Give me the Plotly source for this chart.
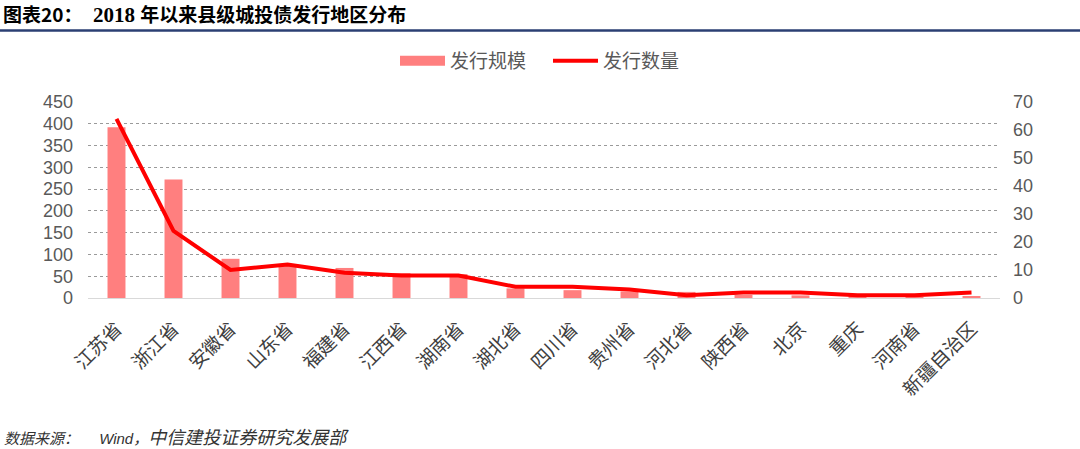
import plotly.graph_objects as go

categories = ["江苏省", "浙江省", "安徽省", "山东省", "福建省", "江西省", "湖南省", "湖北省",
              "四川省", "贵州省", "河北省", "陕西省", "北京", "重庆", "河南省", "新疆自治区"]
scale_values = [392, 272, 90, 75, 69, 57, 55, 22, 18, 15, 14, 7, 6, 3, 2, 4]
count_values = [64, 24, 10, 12, 9, 8, 8, 4, 4, 3, 1, 2, 2, 1, 1, 2]
left_ticks = [0, 50, 100, 150, 200, 250, 300, 350, 400, 450]
right_ticks = [0, 10, 20, 30, 40, 50, 60, 70]

FONT = "Noto Sans CJK SC"
TICKFONT = dict(family="Liberation Sans, " + FONT, size=18, color="#595959")
BAR_COLOR = "#FF7F7F"

fig = go.Figure()
fig.add_trace(go.Bar(x=categories, y=scale_values, name="发行规模", showlegend=False,
                     marker=dict(color=BAR_COLOR, line=dict(width=0)), yaxis="y"))
# legend swatch for the bar series (wide rectangle like the reference)
fig.add_trace(go.Scatter(x=[None], y=[None], name="发行规模", mode="lines",
                         line=dict(color=BAR_COLOR, width=10), yaxis="y"))
fig.add_trace(go.Scatter(x=categories, y=count_values, name="发行数量", mode="lines",
                         line=dict(color="#FF0000", width=4), yaxis="y2"))

L, R, T, B = 88, 80, 102, 151
W, H = 1080, 449
pw = W - L - R
ph = H - T - B

def px(x):
    return (x - L) / pw

def py(y):
    return (H - B - y) / ph

title_html = ("<b>图表20：</b>"
              "<span style='font-family:Liberation Serif;font-size:21px'><b>  2018 </b></span>"
              "<b>年以来县级城投债发行地区分布</b>")
footer_html = ("<i>数据来源：      <span style='font-family:Liberation Sans'>Wind</span>，"
               "<span style='font-size:18px'>中信建投证券研究发展部</span></i>")

fig.update_layout(
    width=W, height=H,
    margin=dict(l=L, r=R, t=T, b=B, autoexpand=False),
    plot_bgcolor="white", paper_bgcolor="white",
    bargap=0.685,
    showlegend=True,
    legend=dict(orientation="h", x=px(395), xanchor="left", y=py(61), yanchor="middle",
                font=dict(family=FONT, size=19, color="#595959"),
                traceorder="normal", itemwidth=45,
                entrywidth=93, entrywidthmode="pixels"),
    xaxis=dict(tickangle=-45, tickfont=dict(family=FONT, size=19, color="#404040"),
               showline=True, linecolor="#D9D9D9", linewidth=1, ticks="",
               showgrid=False, automargin=False, ticklabelstandoff=11),
    yaxis=dict(range=[0, 450], tickvals=left_ticks, tickfont=TICKFONT,
               showgrid=True, gridcolor="#9A9A9A", griddash="dot", gridwidth=1,
               zeroline=False, showline=False, ticks="", ticklabelstandoff=14,
               automargin=False),
    yaxis2=dict(range=[0, 70], tickvals=right_ticks, tickfont=TICKFONT,
                overlaying="y", side="right", showgrid=False, zeroline=False,
                showline=False, ticks="", ticklabelstandoff=12, automargin=False),
    shapes=[dict(type="line", xref="paper", yref="paper",
                 x0=px(0), x1=px(W), y0=py(30.5), y1=py(30.5),
                 line=dict(color="#2B3F73", width=2.5))],
    annotations=[
        dict(text=title_html, xref="paper", yref="paper",
             x=px(1), y=py(14), xanchor="left", yanchor="middle", showarrow=False,
             font=dict(family=FONT, size=19, color="#000000")),
        dict(text=footer_html, xref="paper", yref="paper",
             x=px(2), y=py(436), xanchor="left", yanchor="middle", showarrow=False,
             font=dict(family=FONT, size=15, color="#333333")),
    ],
)

fig.write_html("out.html", config={"displayModeBar": False},
               post_script="document.body.style.margin='0px';document.body.style.overflow='hidden';")
